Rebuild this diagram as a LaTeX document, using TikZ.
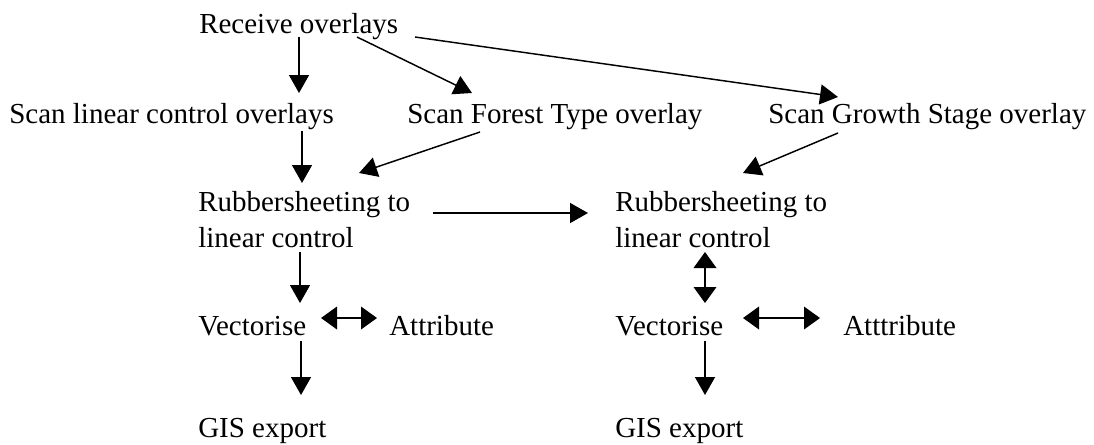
\documentclass[tikz,border=0pt]{standalone}
\usepackage{fontspec}
\setmainfont{Liberation Serif}
\usetikzlibrary{arrows.meta,calc}
\tikzset{
  lbl/.style={inner sep=0pt,anchor=base west,align=left,
    font=\fontsize{21.75}{27}\selectfont},
  arr/.style={line width=1.1pt,-{Triangle[length=13.5pt,width=15pt]}},
  dbl/.style={line width=1.1pt,{Triangle[length=12pt,width=17pt]}-{Triangle[length=12pt,width=17pt]}}
}
\begin{document}
\begin{tikzpicture}[x=0.75pt,y=-0.75pt]
  \useasboundingbox (0,0) rectangle (1094,444);
  % labels
  \node[lbl] (rcv) at (199,33) {Receive overlays};
  \node[lbl] (scanlin) at (9,123) {Scan linear control overlays};
  \node[lbl] (scanfor) at (407,123) {Scan Forest Type overlay};
  \node[lbl] (scangro) at (768,123) {Scan Growth Stage overlay};
  \node[lbl,anchor=north west] (rub1) at (198,191) {Rubbersheeting to\\linear control};
  \node[lbl,anchor=north west] (rub2) at (615,191) {Rubbersheeting to\\linear control};
  \node[lbl] (vec1) at (198,335) {Vectorise};
  \node[lbl] (att1) at (389,335) {Attribute};
  \node[lbl] (vec2) at (615,335) {Vectorise};
  \node[lbl] (att2) at (843,335) {Atttribute};
  \node[lbl] (gis1) at (198,437) {GIS export};
  \node[lbl] (gis2) at (615,437) {GIS export};
  % arrows
  \draw[arr] ($(rcv.base west)+(100,4)$) -- ($(scanlin.base west)+(290,-30)$);
  \draw[arr] ($(rcv.base west)+(158,4)$) -- ($(scanfor.base west)+(65,-30)$);
  \draw[arr] ($(rcv.base west)+(216,4)$) -- ($(scangro.base west)+(70,-26)$);
  \draw[arr] ($(scanlin.base west)+(293,8)$) -- ($(rub1.north west)+(104,-8)$);
  \draw[arr] ($(scanfor.base west)+(73,9)$) -- ($(rub1.north west)+(161,-18)$);
  \draw[arr] ($(scangro.base west)+(70,10)$) -- ($(rub2.north west)+(128,-18)$);
  \draw[arr] ($(rub1.north west)+(235,22)$) -- ($(rub2.north west)+(-27,22)$);
  \draw[arr] ($(rub1.north west)+(102,61)$) -- ($(vec1.base west)+(102,-32)$);
  \draw[dbl] ($(rub2.north west)+(90,61)$) -- ($(vec2.base west)+(90,-32)$);
  \draw[dbl] ($(vec1.base west)+(123,-17)$) -- ($(att1.base west)+(-12,-17)$);
  \draw[dbl] ($(vec2.base west)+(128,-17)$) -- ($(att2.base west)+(-23,-17)$);
  \draw[arr] ($(vec1.base west)+(103,6)$) -- ($(gis1.base west)+(103,-42)$);
  \draw[arr] ($(vec2.base west)+(90,6)$) -- ($(gis2.base west)+(90,-42)$);
\end{tikzpicture}
\end{document}
